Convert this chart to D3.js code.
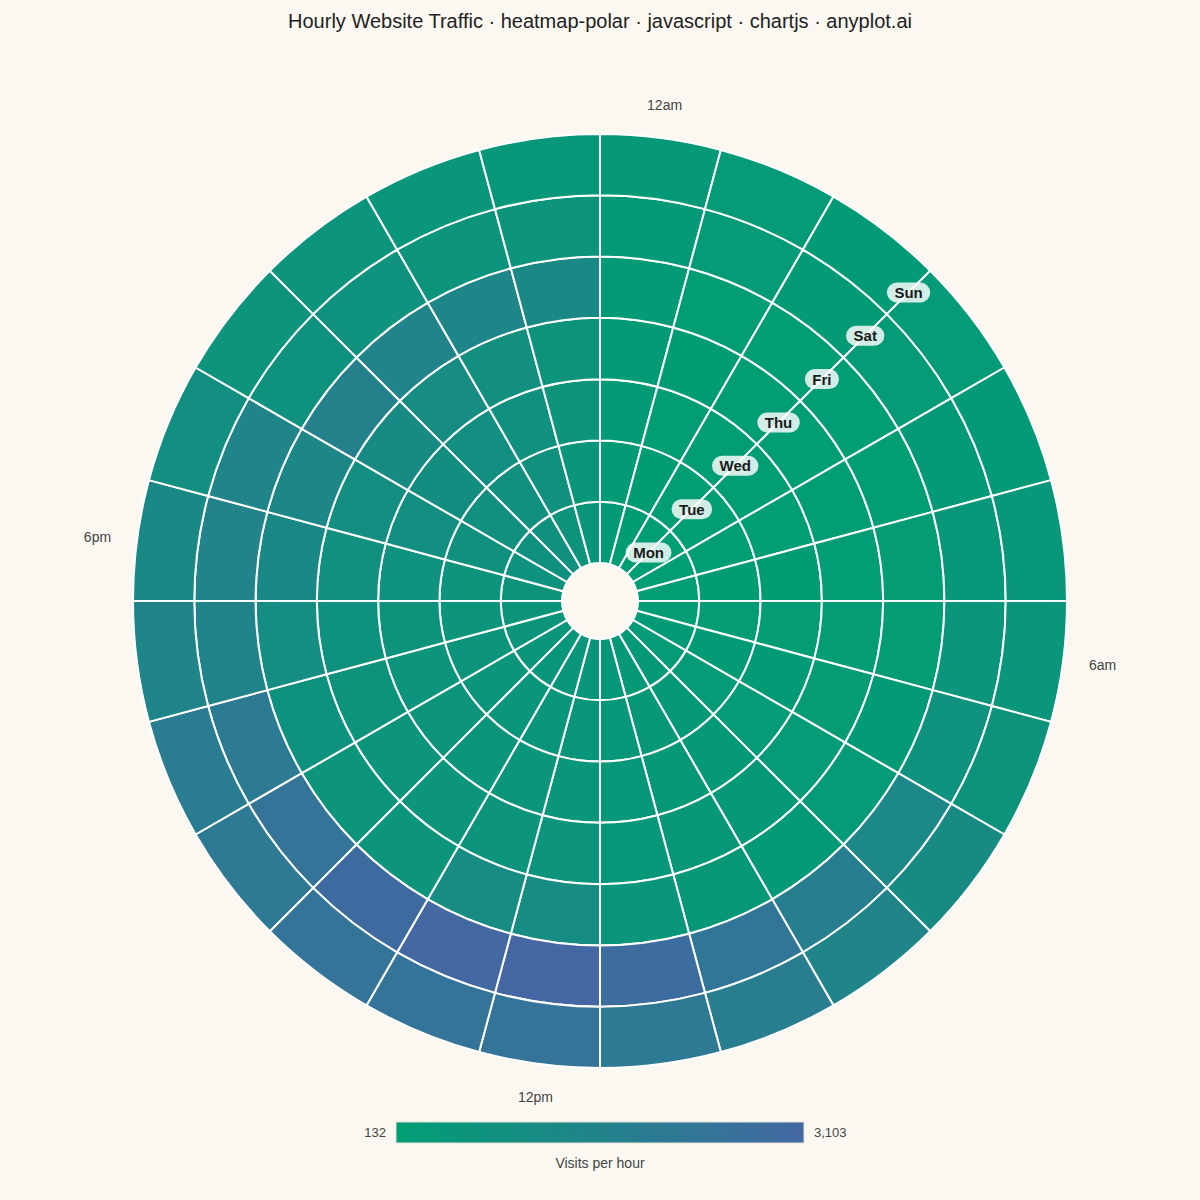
<!DOCTYPE html>
<html>
<head>
<meta charset="utf-8">
<script src="https://cdn.jsdelivr.net/npm/d3@7"></script>
<style>
  html, body { margin: 0; padding: 0; background: #FAF8F1; }
  svg { display: block; font-family: "Liberation Sans", Arial, Helvetica, sans-serif; }
</style>
</head>
<body>
<svg id="chart" width="1200" height="1200"></svg>
<script>
// ---------------- data ----------------
const days = ["Mon", "Tue", "Wed", "Thu", "Fri", "Sat", "Sun"];
const hours = ["12am", "1am", "2am", "3am", "4am", "5am", "6am", "7am", "8am", "9am", "10am", "11am",
               "12pm", "1pm", "2pm", "3pm", "4pm", "5pm", "6pm", "7pm", "8pm", "9pm", "10pm", "11pm"];
const hourTicks = ["12am", "6am", "12pm", "6pm"];

const visitsMon = [281, 221, 191, 132, 185, 228, 254, 279, 312, 402, 455, 521, 546, 552, 581, 603, 641, 648, 702, 787, 846, 818, 751, 574];
const visitsTue = [276, 218, 195, 160, 190, 224, 248, 284, 305, 396, 462, 515, 553, 580, 575, 634, 668, 660, 724, 842, 871, 868, 812, 582];
const visitsWed = [284, 226, 188, 166, 194, 219, 255, 281, 314, 404, 458, 523, 577, 610, 604, 640, 662, 700, 790, 930, 1025, 968, 848, 640];
const visitsThu = [279, 222, 193, 158, 189, 230, 250, 286, 308, 397, 461, 519, 667, 699, 641, 672, 702, 757, 876, 1021, 1140, 1080, 962, 703];
const visitsFri = [283, 225, 190, 163, 196, 252, 253, 282, 311, 370, 430, 548, 1112, 1108, 640, 638, 760, 1030, 1262, 1378, 1710, 1530, 1440, 1258];
const visitsSat = [372, 312, 279, 309, 368, 520, 620, 790, 1345, 1850, 2275, 2808, 3103, 3042, 2860, 2392, 2095, 1555, 1615, 1470, 758, 790, 698, 640];
const visitsSun = [400, 313, 282, 306, 371, 518, 551, 700, 1140, 1470, 1860, 2150, 2400, 2425, 2395, 2152, 1980, 1500, 1262, 934, 726, 697, 580, 489];

const visitsByDay = [visitsMon, visitsTue, visitsWed, visitsThu, visitsFri, visitsSat, visitsSun];

const titleText = "Hourly Website Traffic · heatmap-polar · javascript · chartjs · anyplot.ai";
const legendTitle = "Visits per hour";

// ---------------- layout ----------------
const W = 1200, H = 1200;
const cx = 600, cy = 601;
const innerR = 38, outerR = 467;

const svg = d3.select("#chart");
svg.append("rect").attr("width", W).attr("height", H).attr("fill", "#FAF8F1");

const allVals = visitsByDay.flat();
const vMin = d3.min(allVals), vMax = d3.max(allVals);

const color = d3.scaleLinear()
  .domain([vMin, vMax])
  .range(["#009E73", "#4467A3"])
  .interpolate(d3.interpolateRgb);

const angle = d3.scaleBand().domain(hours).range([0, 2 * Math.PI]).padding(0);
const radius = d3.scaleBand().domain(days).range([innerR, outerR]).padding(0);

const cells = [];
days.forEach((d, di) => {
  hours.forEach((h, hi) => {
    cells.push({ day: d, hour: h, value: visitsByDay[di][hi] });
  });
});

const arc = d3.arc()
  .innerRadius(c => radius(c.day))
  .outerRadius(c => radius(c.day) + radius.bandwidth())
  .startAngle(c => angle(c.hour))
  .endAngle(c => angle(c.hour) + angle.bandwidth());

const g = svg.append("g").attr("transform", `translate(${cx},${cy})`);

g.selectAll("path.cell")
  .data(cells)
  .join("path")
  .attr("class", "cell")
  .attr("d", arc)
  .attr("fill", c => color(c.value))
  .attr("stroke", "#FFFFFF")
  .attr("stroke-width", 2);

// center hole
g.append("circle").attr("r", innerR - 1).attr("fill", "#FAF8F1");

// hour tick labels
const tickR = 493;
g.selectAll("text.hour")
  .data(hourTicks)
  .join("text")
  .attr("class", "hour")
  .each(function (h) {
    const a = angle(h) + angle.bandwidth() / 2;
    const s = Math.sin(a), c = Math.cos(a);
    const x = s * (tickR + 14 * Math.abs(s));
    const y = -c * (tickR + 7 * Math.abs(c));
    d3.select(this).attr("x", x).attr("y", y);
  })
  .attr("text-anchor", "middle")
  .attr("dominant-baseline", "central")
  .attr("font-size", 14)
  .attr("fill", "#444444")
  .text(h => h);

// day labels along the 45° spoke
const dayAngle = Math.PI / 4;
const dayG = g.selectAll("g.day")
  .data(days)
  .join("g")
  .attr("class", "day")
  .attr("transform", d => {
    const r = radius(d) + radius.bandwidth() / 2;
    return `translate(${Math.sin(dayAngle) * r},${-Math.cos(dayAngle) * r})`;
  });

dayG.each(function (d) {
  const sel = d3.select(this);
  const t = sel.append("text")
    .attr("text-anchor", "middle")
    .attr("dominant-baseline", "central")
    .attr("font-size", 15)
    .attr("font-weight", "bold")
    .attr("fill", "#1A1A1A")
    .text(d);
  const w = t.node().getComputedTextLength() + 15;
  sel.insert("rect", "text")
    .attr("x", -w / 2).attr("y", -10)
    .attr("width", w).attr("height", 20)
    .attr("rx", 10).attr("ry", 10)
    .attr("fill", "rgba(255,255,255,0.82)");
});

// title
svg.append("text")
  .attr("x", W / 2).attr("y", 21)
  .attr("text-anchor", "middle")
  .attr("dominant-baseline", "central")
  .attr("font-size", 20)
  .attr("fill", "#222222")
  .text(titleText);

// legend
const lgX = 396, lgY = 1122, lgW = 408, lgH = 21;
const defs = svg.append("defs");
const grad = defs.append("linearGradient").attr("id", "lg").attr("x1", "0%").attr("x2", "100%");
d3.range(0, 1.0001, 0.1).forEach(t => {
  grad.append("stop").attr("offset", `${t * 100}%`).attr("stop-color", color(vMin + t * (vMax - vMin)));
});
svg.append("rect")
  .attr("x", lgX).attr("y", lgY).attr("width", lgW).attr("height", lgH)
  .attr("fill", "url(#lg)")
  .attr("stroke", "#E4E2DA").attr("stroke-width", 1);

const fmt = d3.format(",");
svg.append("text")
  .attr("x", lgX - 10).attr("y", lgY + lgH / 2)
  .attr("text-anchor", "end").attr("dominant-baseline", "central")
  .attr("font-size", 13).attr("fill", "#444444")
  .text(fmt(vMin));
svg.append("text")
  .attr("x", lgX + lgW + 10).attr("y", lgY + lgH / 2)
  .attr("text-anchor", "start").attr("dominant-baseline", "central")
  .attr("font-size", 13).attr("fill", "#444444")
  .text(fmt(vMax));
svg.append("text")
  .attr("x", W / 2).attr("y", 1163)
  .attr("text-anchor", "middle").attr("dominant-baseline", "central")
  .attr("font-size", 14).attr("fill", "#444444")
  .text(legendTitle);
</script>
</body>
</html>
